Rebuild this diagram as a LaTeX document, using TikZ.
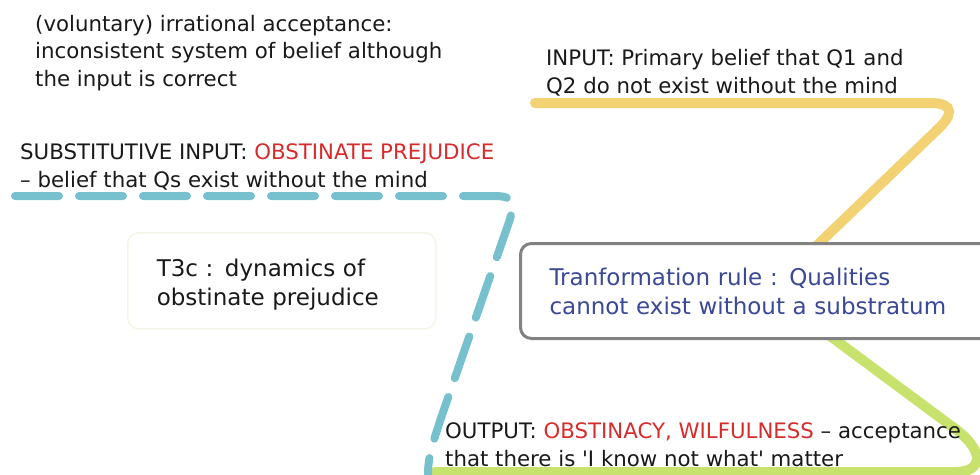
\documentclass[tikz,border=0pt]{standalone}
\usepackage{fontspec}
\setmainfont{DejaVu Sans}
\usetikzlibrary{backgrounds}

\definecolor{inkc}{RGB}{25,25,25}
\definecolor{hotc}{RGB}{214,44,44}
\definecolor{rulec}{RGB}{58,72,150}
\definecolor{ylwc}{RGB}{242,210,115}
\definecolor{tealc}{RGB}{118,193,205}
\definecolor{grnc}{RGB}{200,226,110}
\definecolor{framec}{RGB}{130,130,130}
\definecolor{faintc}{RGB}{246,244,232}

\tikzset{
  txt/.style={anchor=base west, inner sep=0pt, align=left, text=inkc,
    font=\fontsize{21.3}{27.3}\selectfont},
  bigtxt/.style={anchor=north west, align=left, text width=#1, inner xsep=29pt,
    rounded corners=11pt, font=\fontsize{23}{29}\selectfont},
  branch/.style={line width=10pt, line cap=round, draw=#1}
}

\begin{document}
\begin{tikzpicture}[x=1pt,y=-1pt]
  \useasboundingbox (0,0) rectangle (980,474);
  \clip (0,0) rectangle (980,474);
  \node[txt] (note) at (35,86) {(voluntary) irrational acceptance:\\inconsistent system of belief although\\the input is correct};
  \node[txt] (input) at (546,93) {INPUT: Primary belief that Q1 and\\Q2 do not exist without the mind};
  \node[txt] (subst) at (20,187) {SUBSTITUTIVE INPUT: \textcolor{hotc}{OBSTINATE PREJUDICE}\\-- belief that Qs exist without the mind};
  \node[bigtxt=250pt, draw=faintc, line width=1.5pt, minimum height=96pt, text=inkc, text depth=26pt] (t3c) at (127,232) {T3c : dynamics of\\obstinate prejudice};
  \node[bigtxt=440pt, draw=framec, line width=3pt, fill=white, minimum height=95pt, text=rulec] (rule) at (519,242) {Tranformation rule : Qualities\\cannot exist without a substratum};
  \node[txt] (output) at (445,466) {OUTPUT: \textcolor{hotc}{OBSTINACY, WILFULNESS} -- acceptance\\that there is \textquotesingle I know not what\textquotesingle{} matter};

  \begin{pgfonlayer}{background}
    \clip (0,0) rectangle (980,474);
    % underline branches
    \draw[branch=ylwc] ([shift={(-11,10)}]input.base west) -- (930,103)
      .. controls (956,103) and (952,116) .. (938,129) -- (rule.center);
    \draw[branch=grnc] (rule.center) -- (950,425)
      .. controls (985,449) and (985,472) .. (955,472) -- ([shift={(-10,6)}]output.base west);
    \draw[branch=tealc, line width=8pt, dash pattern=on 44pt off 20pt] ([shift={(-5,9)}]subst.base west) -- (495,196)
      .. controls (516,196) and (514,206) .. (509,222) -- (441,418)
      .. controls (434,440) and (428,455) .. ([shift={(-17,8)}]output.base west);
  \end{pgfonlayer}
\end{tikzpicture}
\end{document}
